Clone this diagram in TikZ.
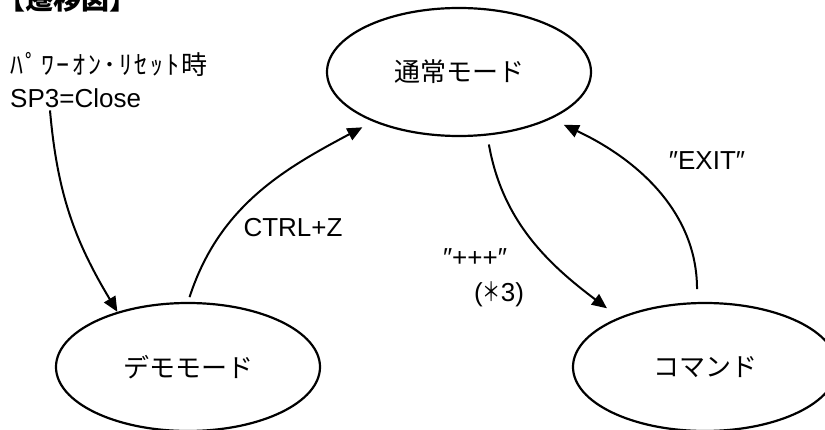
\documentclass[tikz,border=0pt]{standalone}
\usepackage{fontspec}
\setmainfont{Liberation Sans}
\newfontfamily\jp{Noto Sans CJK JP}
\usetikzlibrary{arrows.meta,shapes.geometric}

\begin{document}
\begin{tikzpicture}[x=1pt,y=1pt]
		% Styles
		\tikzstyle{etat}=[ellipse,draw,line width=2.2pt,minimum width=264pt,minimum height=128pt,inner sep=0pt,font=\jp\fontsize{26}{30}\selectfont]
		\tikzstyle{lien}=[-{Triangle[length=15pt,width=13pt]},line width=2pt]
		\tikzstyle{etiquette}=[inner sep=0pt,font=\fontsize{26}{30}\selectfont]
		\tikzstyle{texte}=[etiquette,anchor=base west]
		\tikzstyle{titre}=[anchor=base west,inner sep=0pt,font=\jp\bfseries\fontsize{28}{32}\selectfont]
		% Dimensions
		\def\NiveauHaut{-72}
		\def\NiveauBas{-367}
		% Cadre
		\useasboundingbox (0,0) rectangle (825,-430);
		% Noeuds
		\node[titre] (Titre) at (-3,-10) {【遷移図】};
		\node[texte] (Pwr) at (10,-75) {\jp\addfontfeature{LetterSpace=10}ﾊﾟﾜｰｵﾝ･ﾘｾｯﾄ時};
		\node[texte] (Sp3) at (10,-108) {SP3=Close};
		\coordinate (SpOut) at ([xshift=40pt,yshift=-2pt]Sp3.south west);
		\node[etat] (Normal) at (459,\NiveauHaut) {通常モード};
		\node[etat] (Demo) at (188,\NiveauBas) {デモモード};
		\node[etat] (Commande) at (705,\NiveauBas) {コマンド};
		\node[etiquette] (Ctrl) at (293,-228) {CTRL+Z};
		\node[etiquette] (Plus) at (475,-258) {″+++″};
		\node[etiquette] (Fois) at (499,-294) {(\scalebox{0.7}[1]{\jp ＊}3)};
		\node[etiquette] (Exit) at (707,-161) {″EXIT″};
		% Arcs
		\draw[lien] (SpOut) to[out=-85,in=121] (Demo.142);
		\draw[lien,shorten <=5pt,shorten >=12pt] (Demo.north) to[out=72,in=-152] (Normal.210);
		\draw[lien,shorten <=9pt,shorten >=15pt] (Normal.-66) to[out=-80,in=143] (Commande.150);
		\draw[lien,shorten <=13pt,shorten >=14pt] (Commande.97) to[out=90,in=-25] (Normal.-27);
\end{tikzpicture}
\end{document}
